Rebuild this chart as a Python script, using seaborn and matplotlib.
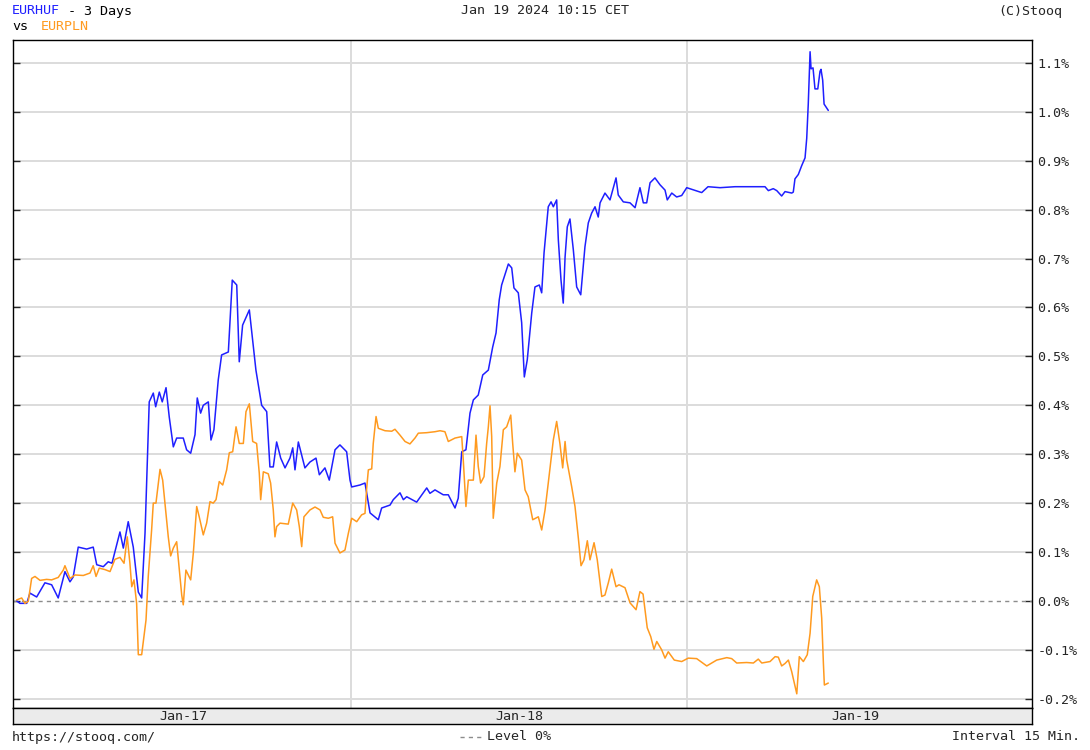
import numpy as np
import pandas as pd
import seaborn as sns
import matplotlib.pyplot as plt
from matplotlib.lines import Line2D

# hours since Jan 17 00:00 CET, change in %
huf_hours = [0.12, 0.36, 0.84, 1.07, 1.55, 2.14, 2.62, 3.09, 3.57, 3.93, 4.16, 4.52, 5.12, 5.59, 5.84,
             6.31, 6.66, 6.93, 7.5, 7.74, 8.09, 8.45, 8.81, 9.05, 9.29, 9.41, 9.52, 9.59, 9.88, 10.05,
             10.31, 10.52, 10.79, 11.02, 11.31, 11.55, 12.02, 12.26, 12.55, 12.86, 13.02, 13.26, 13.45,
             13.81, 14.0, 14.21, 14.52, 14.76, 15.24, 15.52, 15.84, 16.02, 16.26, 16.74, 17.21, 17.62,
             17.98, 18.21, 18.45, 18.69, 18.98, 19.29, 19.64, 19.84, 20.0, 20.24, 20.71, 21.07, 21.5,
             21.74, 22.14, 22.45, 22.86, 23.21, 23.69, 23.93, 24.05, 24.64, 25.0, 25.36, 25.95, 26.19,
             26.79, 27.02, 27.5, 27.74, 27.98, 28.69, 29.41, 29.64, 30.0, 30.59, 30.95, 31.43, 31.66,
             31.91, 32.21, 32.5, 32.74, 33.09, 33.41, 33.81, 34.12, 34.36, 34.59, 34.76, 35.24, 35.48,
             35.64, 35.95, 36.19, 36.38, 36.59, 36.91, 37.14, 37.45, 37.62, 37.79, 38.09, 38.29, 38.45,
             38.69, 38.81, 39.0, 39.16, 39.29, 39.45, 39.64, 39.88, 40.12, 40.41, 40.71, 40.95, 41.19,
             41.43, 41.66, 41.79, 42.14, 42.5, 42.93, 43.09, 43.45, 43.93, 44.29, 44.64, 44.88, 45.12,
             45.36, 45.71, 46.07, 46.43, 46.59, 46.91, 47.26, 47.62, 47.98, 49.05, 49.5, 50.36, 51.43,
             52.5, 53.57, 53.81, 54.16, 54.41, 54.76, 55.0, 55.48, 55.59, 55.71, 55.95, 56.19, 56.43,
             56.55, 56.66, 56.79, 56.86, 57.0, 57.14, 57.34, 57.5, 57.57, 57.69, 57.79, 58.09]
huf_pct = [0.0, -0.005, -0.005, 0.016, 0.008, 0.037, 0.033, 0.006, 0.06, 0.039, 0.049, 0.11, 0.106, 0.11,
           0.074, 0.07, 0.08, 0.077, 0.141, 0.108, 0.162, 0.11, 0.018, 0.006, 0.139, 0.247, 0.35, 0.407,
           0.425, 0.397, 0.427, 0.407, 0.436, 0.376, 0.315, 0.333, 0.333, 0.309, 0.302, 0.34, 0.415,
           0.384, 0.40, 0.407, 0.329, 0.35, 0.452, 0.503, 0.509, 0.656, 0.646, 0.489, 0.564, 0.595,
           0.472, 0.40, 0.387, 0.274, 0.274, 0.325, 0.292, 0.272, 0.292, 0.313, 0.268, 0.325, 0.272,
           0.284, 0.292, 0.258, 0.272, 0.247, 0.309, 0.319, 0.305, 0.247, 0.233, 0.237, 0.241, 0.18,
           0.166, 0.19, 0.196, 0.207, 0.221, 0.207, 0.213, 0.202, 0.231, 0.22, 0.227, 0.217, 0.217,
           0.19, 0.21, 0.305, 0.309, 0.384, 0.411, 0.421, 0.462, 0.472, 0.519, 0.548, 0.616, 0.646,
           0.689, 0.681, 0.64, 0.63, 0.569, 0.458, 0.493, 0.589, 0.642, 0.646, 0.63, 0.712, 0.806,
           0.816, 0.806, 0.82, 0.738, 0.656, 0.609, 0.703, 0.765, 0.781, 0.718, 0.642, 0.626, 0.724,
           0.773, 0.793, 0.806, 0.785, 0.814, 0.834, 0.82, 0.865, 0.83, 0.816, 0.814, 0.804, 0.845,
           0.814, 0.814, 0.855, 0.865, 0.851, 0.84, 0.82, 0.834, 0.826, 0.829, 0.845, 0.835, 0.847,
           0.845, 0.847, 0.847, 0.847, 0.839, 0.843, 0.839, 0.828, 0.837, 0.834, 0.836, 0.863, 0.872,
           0.89, 0.906, 0.946, 1.016, 1.123, 1.088, 1.09, 1.047, 1.047, 1.083, 1.087, 1.065, 1.016,
           1.003]

pln_hours = [0.12, 0.48, 0.71, 0.95, 1.19, 1.43, 1.79, 2.26, 2.62, 3.09, 3.45, 3.57, 3.93, 4.29, 4.88,
             5.36, 5.59, 5.79, 6.02, 6.43, 6.79, 7.14, 7.5, 7.79, 8.02, 8.21, 8.34, 8.5, 8.69, 8.81,
             9.05, 9.21, 9.36, 9.52, 9.76, 9.88, 10.07, 10.36, 10.55, 10.71, 10.95, 11.12, 11.31, 11.55,
             11.74, 11.91, 12.02, 12.21, 12.38, 12.55, 12.74, 12.98, 13.16, 13.45, 13.69, 13.93, 14.16,
             14.36, 14.59, 14.84, 15.12, 15.31, 15.55, 15.79, 16.02, 16.31, 16.5, 16.74, 16.98, 17.26,
             17.45, 17.55, 17.74, 18.09, 18.26, 18.45, 18.57, 18.69, 18.93, 19.52, 19.84, 20.12, 20.31,
             20.48, 20.64, 21.07, 21.43, 21.79, 22.02, 22.38, 22.69, 22.86, 23.21, 23.57, 23.81, 24.05,
             24.41, 24.76, 25.0, 25.12, 25.24, 25.48, 25.59, 25.79, 25.95, 26.43, 26.91, 27.14, 27.5,
             27.86, 28.21, 28.57, 28.81, 29.41, 30.0, 30.36, 30.71, 30.95, 31.43, 31.91, 32.02, 32.21,
             32.38, 32.74, 32.93, 33.09, 33.26, 33.5, 33.69, 33.81, 33.93, 34.05, 34.16, 34.41, 34.64,
             34.88, 35.12, 35.41, 35.55, 35.71, 35.88, 36.19, 36.43, 36.66, 36.98, 37.38, 37.62, 37.86,
             38.09, 38.45, 38.69, 38.93, 39.12, 39.29, 39.41, 39.76, 40.0, 40.24, 40.43, 40.64, 40.88,
             41.07, 41.36, 41.59, 41.91, 42.14, 42.38, 42.62, 42.93, 43.14, 43.57, 43.93, 44.36, 44.64,
             44.86, 45.16, 45.41, 45.64, 45.84, 46.19, 46.43, 46.66, 47.09, 47.62, 48.09, 48.69, 49.41,
             50.12, 50.84, 51.19, 51.55, 52.26, 52.74, 53.09, 53.34, 53.93, 54.29, 54.52, 54.76, 55.0,
             55.24, 55.48, 55.84, 56.02, 56.31, 56.59, 56.79, 56.98, 57.26, 57.45, 57.62, 57.74, 57.81,
             58.09]
pln_pct = [0.002, 0.006, -0.005, -0.001, 0.046, 0.05, 0.042, 0.044, 0.043, 0.048, 0.063, 0.072, 0.046,
           0.053, 0.052, 0.057, 0.072, 0.05, 0.067, 0.064, 0.06, 0.085, 0.089, 0.077, 0.131, 0.077,
           0.029, 0.043, -0.005, -0.11, -0.11, -0.073, -0.039, 0.05, 0.145, 0.2, 0.2, 0.269, 0.247,
           0.2, 0.131, 0.092, 0.108, 0.121, 0.063, 0.012, -0.008, 0.063, 0.053, 0.043, 0.098, 0.193,
           0.172, 0.135, 0.159, 0.203, 0.2, 0.207, 0.244, 0.237, 0.268, 0.303, 0.305, 0.356, 0.322,
           0.322, 0.387, 0.403, 0.326, 0.322, 0.261, 0.207, 0.264, 0.26, 0.241, 0.186, 0.131, 0.152,
           0.159, 0.157, 0.2, 0.186, 0.152, 0.111, 0.172, 0.186, 0.192, 0.186, 0.171, 0.169, 0.172,
           0.118, 0.098, 0.104, 0.138, 0.169, 0.162, 0.176, 0.179, 0.23, 0.268, 0.27, 0.322, 0.377,
           0.353, 0.348, 0.347, 0.351, 0.339, 0.326, 0.321, 0.333, 0.343, 0.344, 0.346, 0.348, 0.346,
           0.326, 0.333, 0.336, 0.288, 0.193, 0.247, 0.247, 0.339, 0.275, 0.241, 0.254, 0.322, 0.356,
           0.399, 0.336, 0.169, 0.241, 0.275, 0.35, 0.356, 0.38, 0.322, 0.264, 0.302, 0.288, 0.227,
           0.213, 0.166, 0.172, 0.145, 0.186, 0.241, 0.329, 0.367, 0.32, 0.272, 0.326, 0.288, 0.234,
           0.193, 0.128, 0.072, 0.084, 0.123, 0.084, 0.119, 0.084, 0.009, 0.012, 0.037, 0.065, 0.029,
           0.033, 0.027, -0.004, -0.018, 0.019, 0.014, -0.055, -0.073, -0.099, -0.083, -0.1, -0.117,
           -0.104, -0.121, -0.124, -0.117, -0.118, -0.133, -0.121, -0.116, -0.118, -0.127, -0.126,
           -0.127, -0.119, -0.127, -0.124, -0.114, -0.115, -0.133, -0.128, -0.121, -0.145, -0.19,
           -0.114, -0.124, -0.11, -0.066, 0.009, 0.043, 0.029, -0.035, -0.127, -0.172, -0.168]

y_ticks = [-0.2, -0.1, 0.0, 0.1, 0.2, 0.3, 0.4, 0.5, 0.6, 0.7, 0.8, 0.9, 1.0, 1.1]
day_labels = ["Jan-17", "Jan-18", "Jan-19"]

BLUE = "#1f1fff"
ORANGE = "#ff9a1f"
W, H = 1090, 750

sns.set_style("white")
plt.rcParams["font.family"] = ["DejaVu Sans Mono"]
FS = 9.6

df = pd.concat([
    pd.DataFrame({"hours": huf_hours, "pct": huf_pct, "series": "EURHUF"}),
    pd.DataFrame({"hours": pln_hours, "pct": pln_pct, "series": "EURPLN"}),
])

fig = plt.figure(figsize=(W / 100, H / 100), dpi=100)
ax = fig.add_axes([13 / W, 42 / H, 1019 / W, 668 / H])
band = fig.add_axes([13 / W, 26 / H, 1019 / W, 16 / H], sharex=ax)

# grid
for v in y_ticks:
    if abs(v) < 1e-9:
        ax.axhline(v, color="#8c8c8c", lw=1.0, dashes=(3, 3), zorder=1)
    else:
        ax.axhline(v, color="#dcdcdc", lw=1.4, zorder=0)
for d in [24, 48]:
    ax.axvline(d, color="#dcdcdc", lw=1.4, zorder=0)

sns.lineplot(data=df, x="hours", y="pct", hue="series", palette={"EURHUF": BLUE, "EURPLN": ORANGE},
             estimator=None, sort=False, legend=False, linewidth=1.1, ax=ax, zorder=3)

ax.set_xlim(-0.14, 72.64)
ax.set_ylim(-0.219, 1.147)
ax.set_xlabel("")
ax.set_ylabel("")
ax.set_yticks(y_ticks)
ax.set_yticklabels([f"{v:.1f}%" for v in y_ticks], fontsize=FS)
ax.yaxis.tick_right()
ax.tick_params(axis="y", direction="in", length=5, width=1, left=True, right=True,
               labelleft=False, labelright=True, pad=4)
ax.set_xticks([24, 48])
ax.tick_params(axis="x", direction="in", length=5, width=1, labelbottom=False)
for s in ax.spines.values():
    s.set_color("black")
    s.set_linewidth(1.0)

band.set_facecolor("#ebebeb")
band.set_yticks([])
band.tick_params(axis="x", length=0, labelbottom=False)
for s in band.spines.values():
    s.set_color("black")
    s.set_linewidth(1.0)
for i, lab in enumerate(day_labels):
    band.text(12 + 24 * i, 0.45, lab, ha="center", va="center", fontsize=FS,
              transform=band.get_xaxis_transform())

# header / footer texts
def fx(px):
    return px / W

def fy(py):
    return 1 - py / H

fig.text(fx(12), fy(11), "EURHUF", color=BLUE, fontsize=FS, va="center")
fig.text(fx(12 + 6 * 8.03), fy(11), " - 3 Days", color="black", fontsize=FS, va="center")
fig.text(fx(12), fy(27), "vs", color="black", fontsize=FS, va="center")
fig.text(fx(41), fy(27), "EURPLN", color=ORANGE, fontsize=FS, va="center")
fig.text(fx(545), fy(11), "Jan 19 2024 10:15 CET", fontsize=FS, ha="center", va="center")
fig.text(fx(1062), fy(11), "(C)Stooq", fontsize=FS, ha="right", va="center")

fig.text(fx(12), fy(737), "https://stooq.com/", fontsize=FS, va="center")
fig.add_artist(Line2D([fx(460), fx(485)], [fy(737), fy(737)], color="#8c8c8c", lw=1.0,
                      dashes=(3, 3), transform=fig.transFigure))
fig.text(fx(487), fy(737), "Level 0%", fontsize=FS, va="center")
fig.text(fx(1080), fy(737), "Interval 15 Min.", fontsize=FS, ha="right", va="center")

fig.savefig("out.png", dpi=100)
